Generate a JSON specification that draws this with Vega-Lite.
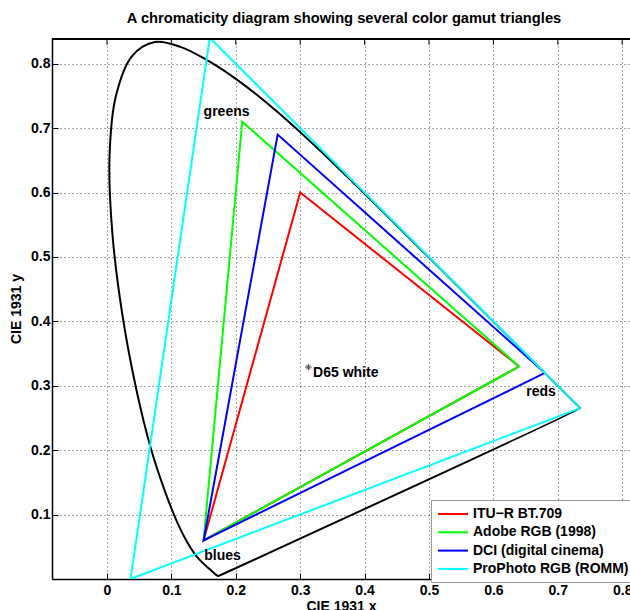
{
  "$schema": "https://vega.github.io/schema/vega-lite/v6.json",
  "width": 578,
  "height": 541,
  "autosize": {"type": "none"},
  "padding": {"left": 52, "top": 38, "right": 0, "bottom": 31},
  "background": "white",
  "title": {"text": "A chromaticity diagram showing several color gamut triangles", "fontSize": 14.7, "font": "Liberation Sans", "fontWeight": "bold", "offset": 12, "color": "black", "dx": 3},
  "config": {
    "view": {"stroke": null},
    "font": "Liberation Sans",
    "axis": {
      "domainColor": "black", "domainWidth": 1.5, "tickColor": "black", "tickWidth": 1, "tickSize": -6,
      "labelColor": "black", "labelFont": "Liberation Sans", "labelFontSize": 14, "labelFontWeight": "bold", "labelPadding": 10,
      "titleColor": "black", "titleFont": "Liberation Sans", "titleFontSize": 14, "titleFontWeight": "bold",
      "grid": true, "gridColor": "black", "gridDash": [1, 3], "gridOpacity": 0.7
    }
  },
  "datasets": {
    "locus": [
      {"i":0,"x":0.1741,"y":0.0050},{"i":1,"x":0.1740,"y":0.0050},{"i":2,"x":0.1738,"y":0.0049},{"i":3,"x":0.1736,"y":0.0049},
      {"i":4,"x":0.1733,"y":0.0048},{"i":5,"x":0.1730,"y":0.0048},{"i":6,"x":0.1726,"y":0.0048},{"i":7,"x":0.1721,"y":0.0048},
      {"i":8,"x":0.1714,"y":0.0051},{"i":9,"x":0.1703,"y":0.0058},{"i":10,"x":0.1689,"y":0.0069},{"i":11,"x":0.1669,"y":0.0086},
      {"i":12,"x":0.1644,"y":0.0109},{"i":13,"x":0.1611,"y":0.0138},{"i":14,"x":0.1566,"y":0.0177},{"i":15,"x":0.1510,"y":0.0227},
      {"i":16,"x":0.1440,"y":0.0297},{"i":17,"x":0.1355,"y":0.0399},{"i":18,"x":0.1241,"y":0.0578},{"i":19,"x":0.1096,"y":0.0868},
      {"i":20,"x":0.0913,"y":0.1327},{"i":21,"x":0.0687,"y":0.2007},{"i":22,"x":0.0454,"y":0.2950},{"i":23,"x":0.0235,"y":0.4127},
      {"i":24,"x":0.0082,"y":0.5384},{"i":25,"x":0.0039,"y":0.6548},{"i":26,"x":0.0139,"y":0.7502},{"i":27,"x":0.0389,"y":0.8120},
      {"i":28,"x":0.0743,"y":0.8338},{"i":29,"x":0.1142,"y":0.8262},{"i":30,"x":0.1547,"y":0.8059},{"i":31,"x":0.1929,"y":0.7816},
      {"i":32,"x":0.2296,"y":0.7543},{"i":33,"x":0.2658,"y":0.7243},{"i":34,"x":0.3016,"y":0.6923},{"i":35,"x":0.3373,"y":0.6589},
      {"i":36,"x":0.3731,"y":0.6245},{"i":37,"x":0.4087,"y":0.5896},{"i":38,"x":0.4441,"y":0.5547},{"i":39,"x":0.4788,"y":0.5202},
      {"i":40,"x":0.5125,"y":0.4866},{"i":41,"x":0.5448,"y":0.4544},{"i":42,"x":0.5752,"y":0.4242},{"i":43,"x":0.6029,"y":0.3965},
      {"i":44,"x":0.6270,"y":0.3725},{"i":45,"x":0.6482,"y":0.3514},{"i":46,"x":0.6658,"y":0.3340},{"i":47,"x":0.6801,"y":0.3197},
      {"i":48,"x":0.6915,"y":0.3083},{"i":49,"x":0.7006,"y":0.2993},{"i":50,"x":0.7079,"y":0.2920},{"i":51,"x":0.7140,"y":0.2859},
      {"i":52,"x":0.7190,"y":0.2809},{"i":53,"x":0.7230,"y":0.2770},{"i":54,"x":0.7260,"y":0.2740},{"i":55,"x":0.7283,"y":0.2717},
      {"i":56,"x":0.7300,"y":0.2700},{"i":57,"x":0.7311,"y":0.2689},{"i":58,"x":0.7320,"y":0.2680},{"i":59,"x":0.7327,"y":0.2673},
      {"i":60,"x":0.7334,"y":0.2666},{"i":61,"x":0.7340,"y":0.2660},{"i":62,"x":0.7344,"y":0.2656},{"i":63,"x":0.7346,"y":0.2654},
      {"i":64,"x":0.7347,"y":0.2653},{"i":65,"x":0.1741,"y":0.0050}
    ],
    "gamuts": [
      {"gamut":"ITU−R BT.709","i":0,"x":0.64,"y":0.33},{"gamut":"ITU−R BT.709","i":1,"x":0.30,"y":0.60},
      {"gamut":"ITU−R BT.709","i":2,"x":0.15,"y":0.06},{"gamut":"ITU−R BT.709","i":3,"x":0.64,"y":0.33},
      {"gamut":"Adobe RGB (1998)","i":0,"x":0.64,"y":0.33},{"gamut":"Adobe RGB (1998)","i":1,"x":0.21,"y":0.71},
      {"gamut":"Adobe RGB (1998)","i":2,"x":0.15,"y":0.06},{"gamut":"Adobe RGB (1998)","i":3,"x":0.64,"y":0.33},
      {"gamut":"DCI (digital cinema)","i":0,"x":0.68,"y":0.32},{"gamut":"DCI (digital cinema)","i":1,"x":0.265,"y":0.69},
      {"gamut":"DCI (digital cinema)","i":2,"x":0.15,"y":0.06},{"gamut":"DCI (digital cinema)","i":3,"x":0.68,"y":0.32},
      {"gamut":"ProPhoto RGB (ROMM)","i":0,"x":0.7347,"y":0.2653},{"gamut":"ProPhoto RGB (ROMM)","i":1,"x":0.1596,"y":0.8404},
      {"gamut":"ProPhoto RGB (ROMM)","i":2,"x":0.0366,"y":0.0001},{"gamut":"ProPhoto RGB (ROMM)","i":3,"x":0.7347,"y":0.2653}
    ],
    "labels": [
      {"label":"greens","x":0.15,"y":0.725},
      {"label":"reds","x":0.651,"y":0.29},
      {"label":"blues","x":0.151,"y":0.035},
      {"label":"D65 white","x":0.32,"y":0.32}
    ],
    "white": [{"x":0.3127,"y":0.329}],
    "frame": [{"x":-0.0854,"y":0.8385,"x2":0.8121}],
    "topticks": [{"x":0,"y":0.8385,"y2":0.8295},{"x":0.1,"y":0.8385,"y2":0.8295},{"x":0.2,"y":0.8385,"y2":0.8295},{"x":0.3,"y":0.8385,"y2":0.8295},{"x":0.4,"y":0.8385,"y2":0.8295},{"x":0.5,"y":0.8385,"y2":0.8295},{"x":0.6,"y":0.8385,"y2":0.8295},{"x":0.7,"y":0.8385,"y2":0.8295},{"x":0.8,"y":0.8385,"y2":0.8295}]
  },
  "layer": [
    {
      "data": {"name": "locus"},
      "mark": {"type": "line", "color": "black", "strokeWidth": 2, "clip": true, "interpolate": "catmull-rom"},
      "encoding": {
        "x": {"field": "x", "type": "quantitative", "scale": {"domain": [-0.0854, 0.8121], "nice": false, "zero": false},
              "axis": {"orient": "bottom", "values": [0, 0.1, 0.2, 0.3, 0.4, 0.5, 0.6, 0.7, 0.8], "title": "CIE 1931 x", "format": ".1~f", "titlePadding": 2}},
        "y": {"field": "y", "type": "quantitative", "scale": {"domain": [0, 0.8400], "nice": false, "zero": false},
              "axis": {"values": [0.1, 0.2, 0.3, 0.4, 0.5, 0.6, 0.7, 0.8], "title": "CIE 1931 y", "format": ".1f", "titlePadding": 7, "labelPadding": 8}},
        "order": {"field": "i", "type": "quantitative"}
      }
    },
    {
      "data": {"name": "gamuts"},
      "mark": {"type": "line", "strokeWidth": 2, "clip": true},
      "encoding": {
        "x": {"field": "x", "type": "quantitative"},
        "y": {"field": "y", "type": "quantitative"},
        "order": {"field": "i", "type": "quantitative"},
        "color": {
          "field": "gamut", "type": "nominal",
          "scale": {"domain": ["ITU−R BT.709", "Adobe RGB (1998)", "DCI (digital cinema)", "ProPhoto RGB (ROMM)"], "range": ["#ff0000", "#00ff00", "#0000ff", "#00ffff"]},
          "legend": {"title": null, "orient": "none", "legendX": 379, "legendY": 462, "fillColor": "white", "strokeColor": "#999999",
                     "padding": 6, "labelFont": "Liberation Sans", "labelFontSize": 14, "labelFontWeight": "bold", "labelColor": "black",
                     "symbolType": "M-1,0L3.29,0", "symbolSize": 196, "symbolStrokeWidth": 2, "rowPadding": 3.3, "labelOffset": 20, "labelLimit": 400}
        }
      }
    },
    {
      "data": {"name": "labels"},
      "mark": {"type": "text", "align": "left", "baseline": "middle", "font": "Liberation Sans", "fontSize": 14, "fontWeight": "bold", "color": "black"},
      "encoding": {
        "x": {"field": "x", "type": "quantitative"},
        "y": {"field": "y", "type": "quantitative"},
        "text": {"field": "label"}
      }
    },
    {
      "data": {"name": "white"},
      "mark": {"type": "point", "shape": "M-1,0L1,0M0,-1L0,1M-0.7,-0.7L0.7,0.7M-0.7,0.7L0.7,-0.7", "size": 45, "stroke": "black", "strokeWidth": 1, "filled": false},
      "encoding": {
        "x": {"field": "x", "type": "quantitative"},
        "y": {"field": "y", "type": "quantitative"}
      }
    },
    {
      "data": {"name": "topticks"},
      "mark": {"type": "rule", "color": "black", "strokeWidth": 1},
      "encoding": {
        "x": {"field": "x", "type": "quantitative"},
        "y": {"field": "y", "type": "quantitative"},
        "y2": {"field": "y2"}
      }
    },
    {
      "data": {"name": "frame"},
      "mark": {"type": "rule", "color": "black", "strokeWidth": 2},
      "encoding": {
        "x": {"field": "x", "type": "quantitative"},
        "x2": {"field": "x2"},
        "y": {"field": "y", "type": "quantitative"}
      }
    }
  ]
}
